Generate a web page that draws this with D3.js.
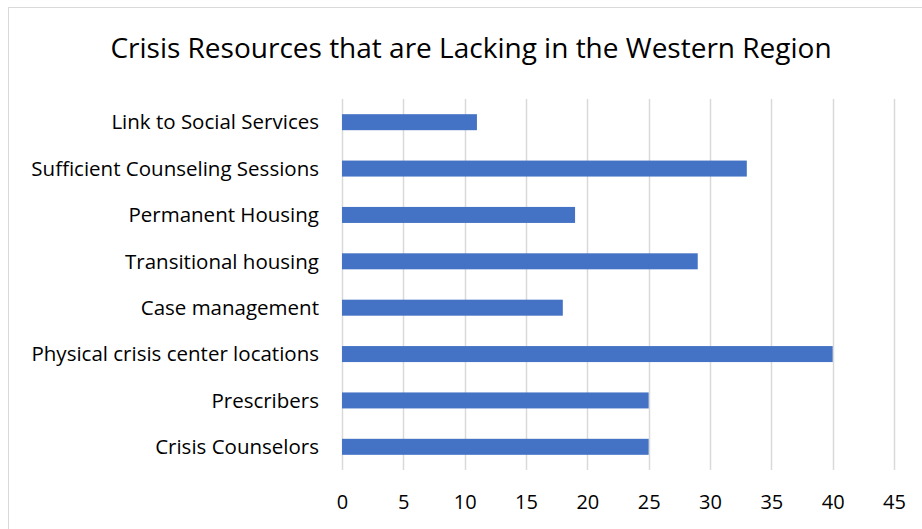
<!DOCTYPE html>
<html>
<head>
<meta charset="utf-8">
<script src="https://cdn.jsdelivr.net/npm/d3@7"></script>
<style>
  html, body { margin: 0; padding: 0; background: #fff; }
  svg { display: block; }
  text { font-family: "Open Sans", sans-serif; fill: #000; }
</style>
</head>
<body>
<svg id="chart" width="922" height="529"></svg>
<script>
const title = "Crisis Resources that are Lacking in the Western Region";
const categories = [
  "Link to Social Services",
  "Sufficient Counseling Sessions",
  "Permanent Housing",
  "Transitional housing",
  "Case management",
  "Physical crisis center locations",
  "Prescribers",
  "Crisis Counselors"
];
const values = [11, 33, 19, 29, 18, 40, 25, 25];
const xTicks = [0, 5, 10, 15, 20, 25, 30, 35, 40, 45];

const svg = d3.select("#chart");
const W = 922, H = 529;
const plot = { left: 342, right: 894, top: 99, bottom: 470 };

// Chart area frame
svg.append("rect")
  .attr("x", 8.5).attr("y", 7.5)
  .attr("width", W + 20).attr("height", H + 20)
  .attr("fill", "#fff").attr("stroke", "#d9d9d9").attr("stroke-width", 1);

const x = d3.scaleLinear().domain([0, 45]).range([plot.left, plot.right]);
const y = d3.scaleBand().domain(categories).range([plot.top, plot.bottom]).paddingInner(0.655).paddingOuter(0.3275);

// Title
svg.append("text")
  .attr("x", 471).attr("y", 58)
  .attr("text-anchor", "middle")
  .style("font-size", "28px")
  .text(title);

// Vertical gridlines
svg.append("g").selectAll("line")
  .data(xTicks)
  .join("line")
  .attr("x1", d => Math.round(x(d)) + 0.5).attr("x2", d => Math.round(x(d)) + 0.5)
  .attr("y1", plot.top).attr("y2", plot.bottom)
  .attr("stroke", "#d9d9d9").attr("stroke-width", 1.5);

// Bars
svg.append("g").selectAll("rect")
  .data(values)
  .join("rect")
  .attr("x", x(0))
  .attr("y", (d, i) => y(categories[i]))
  .attr("width", d => x(d) - x(0))
  .attr("height", y.bandwidth())
  .attr("fill", "#4472c4");

// X axis tick labels
const xAxis = d3.axisBottom(x).tickValues(xTicks).tickSize(0).tickPadding(0);
const gx = svg.append("g").attr("transform", `translate(0,${plot.bottom + 39})`).call(xAxis);
gx.select(".domain").remove();
gx.selectAll("text").style("font-size", "20px").attr("dy", 0).attr("font-family", null);

// Y axis category labels
const yAxis = d3.axisLeft(y).tickSize(0).tickPadding(0);
const gy = svg.append("g").attr("transform", `translate(319,0)`).call(yAxis);
gy.select(".domain").remove();
gy.selectAll("text").style("font-size", "20.5px").attr("font-family", null).attr("dy", "0.35em");
</script>
</body>
</html>
